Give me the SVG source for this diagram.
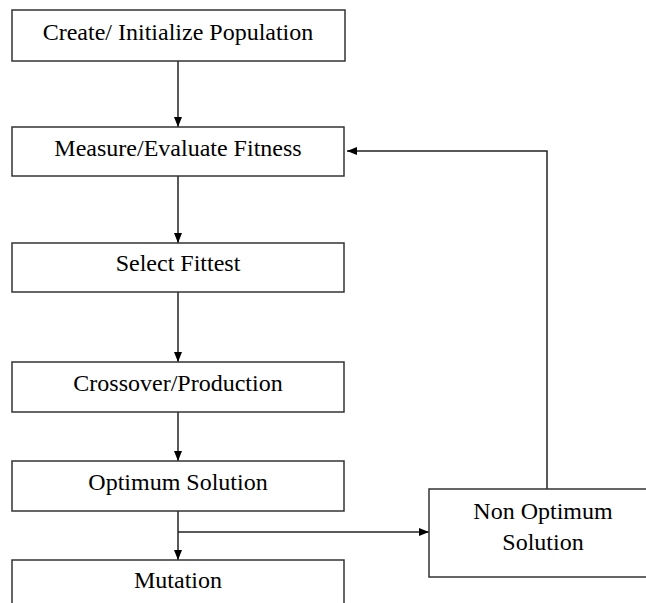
<svg xmlns="http://www.w3.org/2000/svg" width="646" height="603" viewBox="0 0 646 603">
<style>
.box{fill:#fff;stroke:#333;stroke-width:1.5}
.t{font-family:"Liberation Serif","Times New Roman",serif;font-size:24px;fill:#000;text-anchor:middle}
.c{fill:none;stroke:#222;stroke-width:1.5}
</style>
<defs>
<marker id="ah" viewBox="0 0 10 10" refX="10" refY="5" markerWidth="10" markerHeight="10" markerUnits="userSpaceOnUse" orient="auto">
<path d="M0,1 L10,5 L0,9 Z" fill="#000"/>
</marker>
</defs>
<rect width="646" height="603" fill="#fff"/>
<g id="connectors">
<line class="c" x1="178" y1="61" x2="178" y2="127" marker-end="url(#ah)"/>
<line class="c" x1="178" y1="176" x2="178" y2="243" marker-end="url(#ah)"/>
<line class="c" x1="178" y1="292" x2="178" y2="362" marker-end="url(#ah)"/>
<line class="c" x1="178" y1="412" x2="178" y2="461" marker-end="url(#ah)"/>
<line class="c" x1="178" y1="511" x2="178" y2="560" marker-end="url(#ah)"/>
<polyline class="c" points="178,532 429,532" marker-end="url(#ah)"/>
<polyline class="c" points="547,489 547,151 347,151" marker-end="url(#ah)"/>
</g>
<g id="n1"><rect class="box" x="12" y="10" width="333" height="51"/><text class="t" x="178" y="40">Create/ Initialize Population</text></g>
<g id="n2"><rect class="box" x="12" y="127" width="332" height="49"/><text class="t" x="178" y="156">Measure/Evaluate Fitness</text></g>
<g id="n3"><rect class="box" x="12" y="243" width="332" height="49"/><text class="t" x="178" y="271">Select Fittest</text></g>
<g id="n4"><rect class="box" x="12" y="362" width="332" height="50"/><text class="t" x="178" y="391">Crossover/Production</text></g>
<g id="n5"><rect class="box" x="12" y="461" width="332" height="50"/><text class="t" x="178" y="490">Optimum Solution</text></g>
<g id="n6"><rect class="box" x="12" y="560" width="332" height="60"/><text class="t" x="178" y="588">Mutation</text></g>
<g id="n7"><rect class="box" x="429" y="489" width="240" height="88"/><text class="t" x="543" y="519">Non Optimum</text><text class="t" x="543" y="550">Solution</text></g>
</svg>
